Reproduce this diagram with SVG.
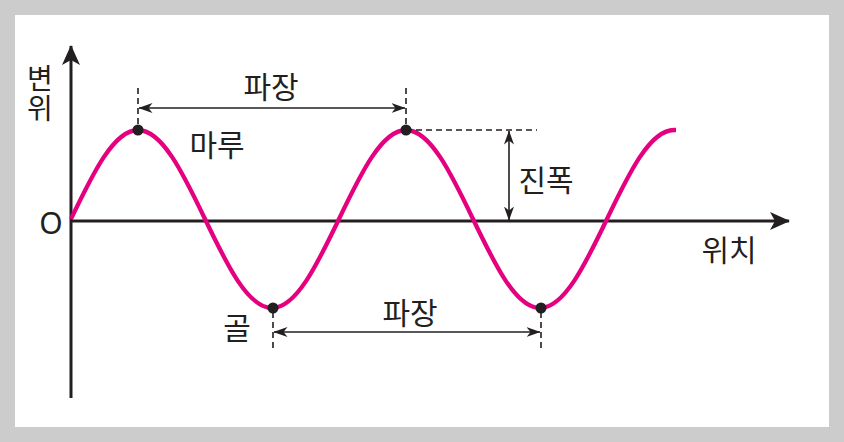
<svg xmlns="http://www.w3.org/2000/svg" width="844" height="442" viewBox="0 0 844 442">
<defs>
<style>
.axis{stroke:#231f20;stroke-width:3;fill:none}
.dim{stroke:#231f20;stroke-width:1.6;fill:none}
.dash{stroke:#231f20;stroke-width:1.6;fill:none;stroke-dasharray:6 4}
.wave{stroke:#e4007f;stroke-width:4.3;fill:none}
.dot{fill:#231f20}
text{font-family:"Noto Sans CJK KR","Noto Sans",sans-serif;fill:#231f20;font-size:30px}
</style>
<marker id="bigArrow" viewBox="0 0 20 18" refX="19" refY="9" markerWidth="20" markerHeight="18" markerUnits="userSpaceOnUse" orient="auto">
<path d="M0,0 L20,9 L0,18 L5,9 Z" fill="#231f20"/>
</marker>
<marker id="smallArrow" viewBox="0 0 14 10" refX="13.5" refY="5" markerWidth="14" markerHeight="10" markerUnits="userSpaceOnUse" orient="auto-start-reverse">
<path d="M0,0 L14,5 L0,10 L4,5 Z" fill="#231f20"/>
</marker>
</defs>
<rect x="0" y="0" width="844" height="442" fill="#cccccc"/>
<rect x="15" y="15" width="814" height="412" fill="#ffffff"/>
<g id="axes">
<line class="axis" x1="71" y1="398" x2="71" y2="46" marker-end="url(#bigArrow)"/>
<line class="axis" x1="71" y1="221" x2="789" y2="221" marker-end="url(#bigArrow)"/>
</g>
<g id="wave">
<path class="wave" d="M71,219 c21.85,-45.6 42.86,-89 67,-89 c24.14,0 45.15,43.4 67,89 c21.85,45.6 42.86,89 67,89 c24.14,0 45.15,-43.4 67,-89 c21.85,-45.6 42.86,-89 67,-89 c24.14,0 45.15,43.4 67,89 c21.85,45.6 42.86,89 67,89 c24.14,0 45.15,-43.4 67,-89 c21.85,-45.6 42.86,-89 67,-89 h2"/>
</g>
<g id="connectors">
<line class="dash" x1="138" y1="88" x2="138" y2="126"/>
<line class="dash" x1="406" y1="88" x2="406" y2="126"/>
<line class="dim" x1="139" y1="108" x2="405" y2="108" marker-start="url(#smallArrow)" marker-end="url(#smallArrow)"/>
<line class="dash" x1="406" y1="130" x2="537" y2="130"/>
<line class="dim" x1="509" y1="131" x2="509" y2="220" marker-start="url(#smallArrow)" marker-end="url(#smallArrow)"/>
<line class="dash" x1="273" y1="312" x2="273" y2="350"/>
<line class="dash" x1="541" y1="312" x2="541" y2="350"/>
<line class="dim" x1="274" y1="332" x2="540" y2="332" marker-start="url(#smallArrow)" marker-end="url(#smallArrow)"/>
</g>
<g id="crest">
<circle class="dot" cx="138" cy="130" r="5.5"/>
<text x="217" y="156" text-anchor="middle">마루</text>
</g>
<g id="crest2">
<circle class="dot" cx="406" cy="130" r="5.5"/>
</g>
<g id="trough">
<circle class="dot" cx="273" cy="308" r="5.5"/>
<text x="237" y="339" text-anchor="middle">골</text>
</g>
<g id="trough2">
<circle class="dot" cx="541" cy="308" r="5.5"/>
</g>
<g id="labels">
<text x="271" y="98" text-anchor="middle">파장</text>
<text x="410" y="324" text-anchor="middle">파장</text>
<text x="546" y="191" text-anchor="middle">진폭</text>
<text x="729" y="261" text-anchor="middle">위치</text>
<text x="40" y="64" style="font-size:28px;writing-mode:vertical-rl;text-orientation:upright;letter-spacing:2px">변위</text>
<text x="51" y="234" text-anchor="middle" style="font-family:'Noto Sans',sans-serif;font-size:30px">O</text>
</g>
</svg>
